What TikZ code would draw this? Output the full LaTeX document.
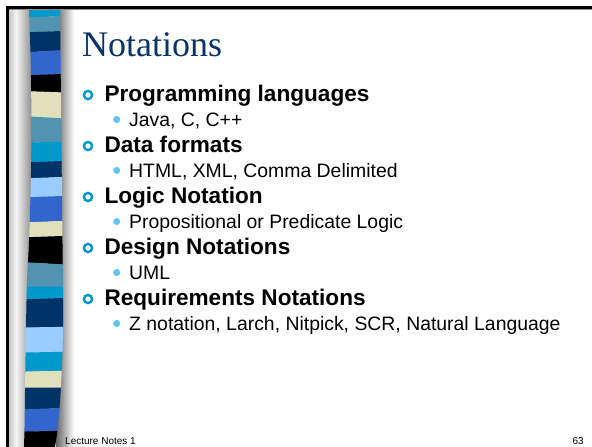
\documentclass[tikz,border=0pt]{standalone}
\usepackage{fontspec}
\setmainfont{Liberation Sans}
\newfontfamily\titlefont{Liberation Serif}

\definecolor{stcyan}{RGB}{0,153,204}
\definecolor{ststeel}{RGB}{82,147,178}
\definecolor{stnavy}{RGB}{0,51,102}
\definecolor{stroyal}{RGB}{51,102,204}
\definecolor{stbeige}{RGB}{224,224,188}
\definecolor{stlight}{RGB}{153,204,255}
\definecolor{titleblue}{RGB}{8,52,104}
\definecolor{ringblue}{RGB}{0,153,204}
\definecolor{dotblue}{RGB}{97,196,245}

\tikzset{
  lvlone/.style={anchor=base west, inner sep=0pt,
    font=\fontsize{22.6}{26}\selectfont\bfseries},
  lvltwo/.style={anchor=base west, inner sep=0pt,
    font=\fontsize{19.4}{23}\selectfont},
  ringbullet/.style={draw=ringblue, line width=2.4pt, circle,
    minimum size=8.2pt, inner sep=0pt},
  dotbullet/.style={fill=dotblue, circle, minimum size=7pt, inner sep=0pt},
  footer/.style={anchor=base, inner sep=0pt, font=\fontsize{10}{12}\selectfont}
}

\begin{document}
\begin{tikzpicture}[x=1pt,y=-1pt]
\useasboundingbox (0,0) rectangle (592,447);
\fill[white] (0,0) rectangle (592,447);

% rounded grey edge left of the stripe band
\shade[left color=black!22, right color=black!4] (9,9) rectangle (16,447);
\shade[left color=black!4, right color=black!50] (16,9) rectangle (34,447);
% soft shadow right of the band
\shade[left color=black!60, right color=white] (56,9) rectangle (74,447);

% coloured stripe band
\begin{scope}
  \clip (29,9) .. controls (32,80) and (33,180) .. (27,280)
        .. controls (25,360) and (25,420) .. (24,447)
        -- (55,447) .. controls (60,420) and (64,350) .. (63,290)
        .. controls (62,200) and (61,100) .. (60,9) -- cycle;
  \foreach \ya/\yb/\yc/\yd/\c in {
      9/9/18/16/stcyan, 18/16/33/31/ststeel, 33/31/53/50/stnavy,
      53/50/76/74/stroyal, 76/74/91/93/black, 91/93/116/119/stbeige,
      116/119/143/142/ststeel, 143/142/163/161/stcyan,
      163/161/179/177/stnavy, 179/177/198/196/stlight,
      198/196/223/221/stroyal, 223/221/238/236/stbeige,
      238/236/262/265/black, 262/265/287/287/ststeel,
      287/287/300/298/stcyan, 300/298/328/327/stnavy,
      328/327/353/352/stlight, 353/352/372/371/stcyan,
      372/371/388/388/stbeige, 388/388/410/408/stnavy,
      410/408/432/431/stroyal, 432/431/448/448/black} {
    \fill[\c] (15,\ya-0.3) -- (70,\yb-0.3) -- (70,\yd) -- (15,\yc) -- cycle;
  }
\end{scope}

% frame lines
\fill[black!45] (6,9) rectangle (592,10);
\fill[black] (6,6) rectangle (592,9);
\fill[black] (6,6) rectangle (9,447);

% title
\node[anchor=base west, inner sep=0pt, text=titleblue,
      font=\titlefont\fontsize{36}{40}\selectfont] (title) at (82,56) {Notations};

% first-level items
\node[ringbullet] (r1) at (88,95) {};
\node[lvlone] (h1) at (104.3,101) {Programming languages};
\node[dotbullet] (d1) at (116.7,119.5) {};
\node[lvltwo] (t1) at (129,126.5) {Java, C, C++};

\node[ringbullet] (r2) at (88,146) {};
\node[lvlone] (h2) at (104.3,152) {Data formats};
\node[dotbullet] (d2) at (116.7,170.5) {};
\node[lvltwo] (t2) at (129,177.5) {HTML, XML, Comma Delimited};

\node[ringbullet] (r3) at (88,197) {};
\node[lvlone] (h3) at (104.3,203) {Logic Notation};
\node[dotbullet] (d3) at (116.7,221.5) {};
\node[lvltwo] (t3) at (129,228.5) {Propositional or Predicate Logic};

\node[ringbullet] (r4) at (88,248) {};
\node[lvlone] (h4) at (104.3,254) {Design Notations};
\node[dotbullet] (d4) at (116.7,272.5) {};
\node[lvltwo] (t4) at (129,279.5) {UML};

\node[ringbullet] (r5) at (88,299) {};
\node[lvlone] (h5) at (104.3,305) {Requirements Notations};
\node[dotbullet] (d5) at (116.7,323.5) {};
\node[lvltwo] (t5) at (129,330.5) {Z notation, Larch, Nitpick, SCR, Natural Language};

% footer
\node[footer, anchor=base west] (foot) at (65,444) {Lecture Notes 1};
\node[footer, anchor=base east] (page) at (584,444) {63};
\end{tikzpicture}
\end{document}
